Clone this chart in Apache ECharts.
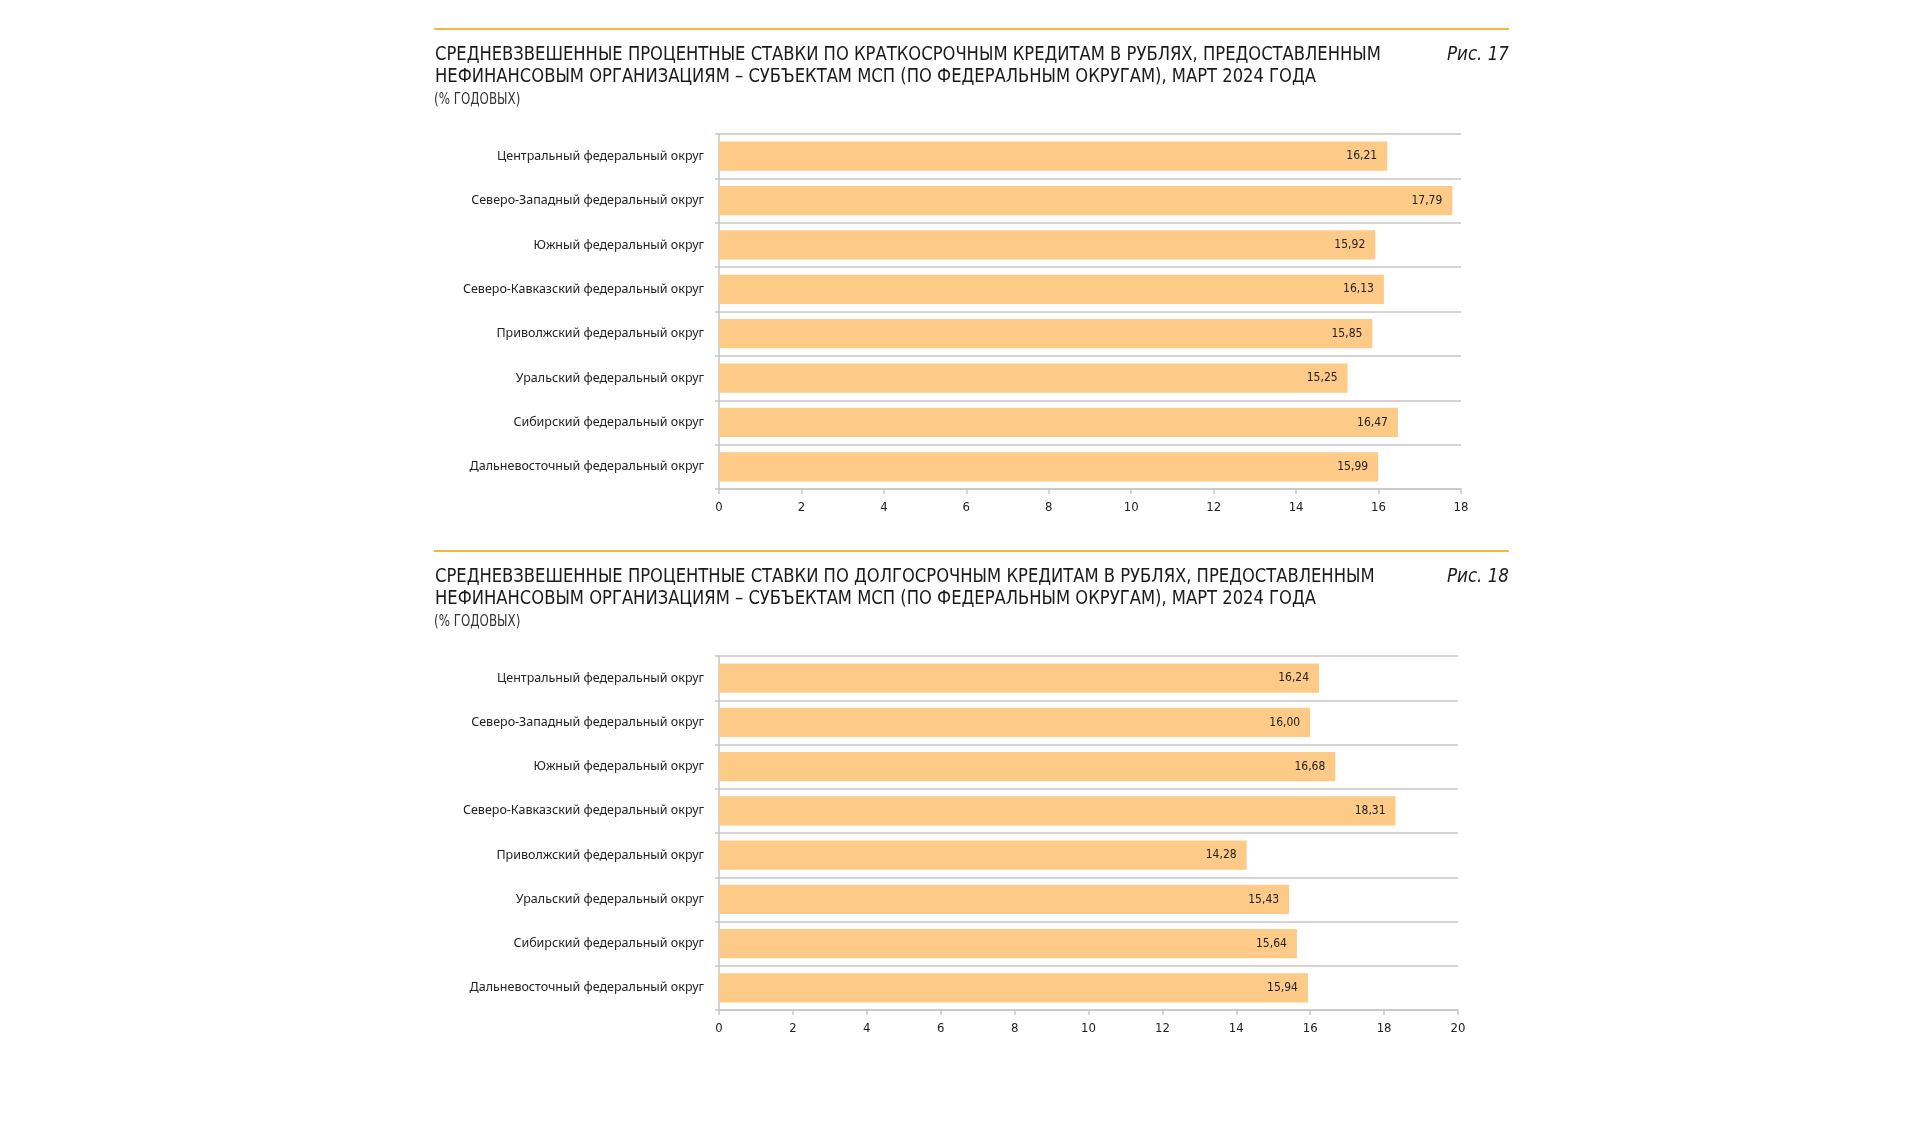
<!DOCTYPE html>
<html><head><meta charset="utf-8">
<script src="https://cdn.jsdelivr.net/npm/echarts@6/dist/echarts.min.js"></script>
<style>html,body{margin:0;padding:0;background:#fff}#c{width:1920px;height:1141px}</style>
</head><body><div id="c"></div>
<script>
var categories = ['Центральный федеральный округ','Северо-Западный федеральный округ','Южный федеральный округ','Северо-Кавказский федеральный округ','Приволжский федеральный округ','Уральский федеральный округ','Сибирский федеральный округ','Дальневосточный федеральный округ'];
var shortTermRates = [16.21, 17.79, 15.92, 16.13, 15.85, 15.25, 16.47, 15.99];
var longTermRates = [16.24, 16.00, 16.68, 18.31, 14.28, 15.43, 15.64, 15.94];
var title1 = ['СРЕДНЕВЗВЕШЕННЫЕ ПРОЦЕНТНЫЕ СТАВКИ ПО КРАТКОСРОЧНЫМ КРЕДИТАМ В РУБЛЯХ, ПРЕДОСТАВЛЕННЫМ','НЕФИНАНСОВЫМ ОРГАНИЗАЦИЯМ – СУБЪЕКТАМ МСП (ПО ФЕДЕРАЛЬНЫМ ОКРУГАМ), МАРТ 2024 ГОДА'];
var title2 = ['СРЕДНЕВЗВЕШЕННЫЕ ПРОЦЕНТНЫЕ СТАВКИ ПО ДОЛГОСРОЧНЫМ КРЕДИТАМ В РУБЛЯХ, ПРЕДОСТАВЛЕННЫМ','НЕФИНАНСОВЫМ ОРГАНИЗАЦИЯМ – СУБЪЕКТАМ МСП (ПО ФЕДЕРАЛЬНЫМ ОКРУГАМ), МАРТ 2024 ГОДА'];
var subtitleText = '(% ГОДОВЫХ)';
var figLabels = ['Рис. 17', 'Рис. 18'];
var xMax = [18, 20];

var condensed = '"Liberation Sans Narrow","DejaVu Sans Condensed","Roboto",sans-serif';
var gray = '#c6c6c6';
var barColor = '#fdca88';
var rule = '#f7b546';

function header(y0, lines, fig) {
  return [
    {type:'line', shape:{x1:434,y1:y0,x2:1509,y2:y0}, style:{stroke:rule, lineWidth:2}},
    {type:'text', x:435, y:y0+15, scaleX:0.91, style:{text:lines.join('\n'), font:'20px '+condensed, fill:'#1a1a1a', lineHeight:22}},
    {type:'text', x:434, y:y0+64, scaleX:0.88, style:{text:subtitleText, font:'15px '+condensed, fill:'#333'}},
    {type:'text', x:1509, y:y0+16, scaleX:0.93, style:{text:fig, font:'italic 20px '+condensed, fill:'#1a1a1a', align:'right'}}
  ];
}

function fmt(p){ return p.value.toFixed(2).replace('.', ','); }

var grids = [
  {left:719, top:134, width:742, height:355},
  {left:719, top:656, width:739, height:354}
];

function xAx(i){
  return {gridIndex:i, type:'value', min:0, max:xMax[i], interval:2,
    axisLine:{show:true, lineStyle:{color:gray, width:1.5}},
    axisTick:{show:true, length:5, lineStyle:{color:gray, width:1.5}},
    splitLine:{show:false},
    axisLabel:{color:'#222', fontSize:13, fontFamily:condensed, margin:12}};
}
function yAx(i){
  return {gridIndex:i, type:'category', inverse:true, data:categories,
    axisLine:{show:true, lineStyle:{color:gray, width:1.5}},
    axisTick:{show:true, length:4, lineStyle:{color:gray, width:1.5}},
    splitLine:{show:true, lineStyle:{color:gray, width:1.5}},
    axisLabel:{color:'#222', fontSize:12.5, fontFamily:'"Noto Sans",sans-serif', margin:15}};
}
function ser(i, data){
  return {type:'bar', xAxisIndex:i, yAxisIndex:i, data:data, barCategoryGap:'34%',
    itemStyle:{color:barColor}, silent:true,
    label:{show:true, position:'insideRight', distance:10, formatter:fmt, color:'#222', fontSize:12, fontFamily:condensed}};
}

var chart = echarts.init(document.getElementById('c'));
chart.setOption({
  animation:false,
  grid:grids,
  xAxis:[xAx(0), xAx(1)],
  yAxis:[yAx(0), yAx(1)],
  series:[ser(0, shortTermRates), ser(1, longTermRates)],
  graphic: header(29, title1, figLabels[0]).concat(header(551, title2, figLabels[1]))
});
</script></body></html>
